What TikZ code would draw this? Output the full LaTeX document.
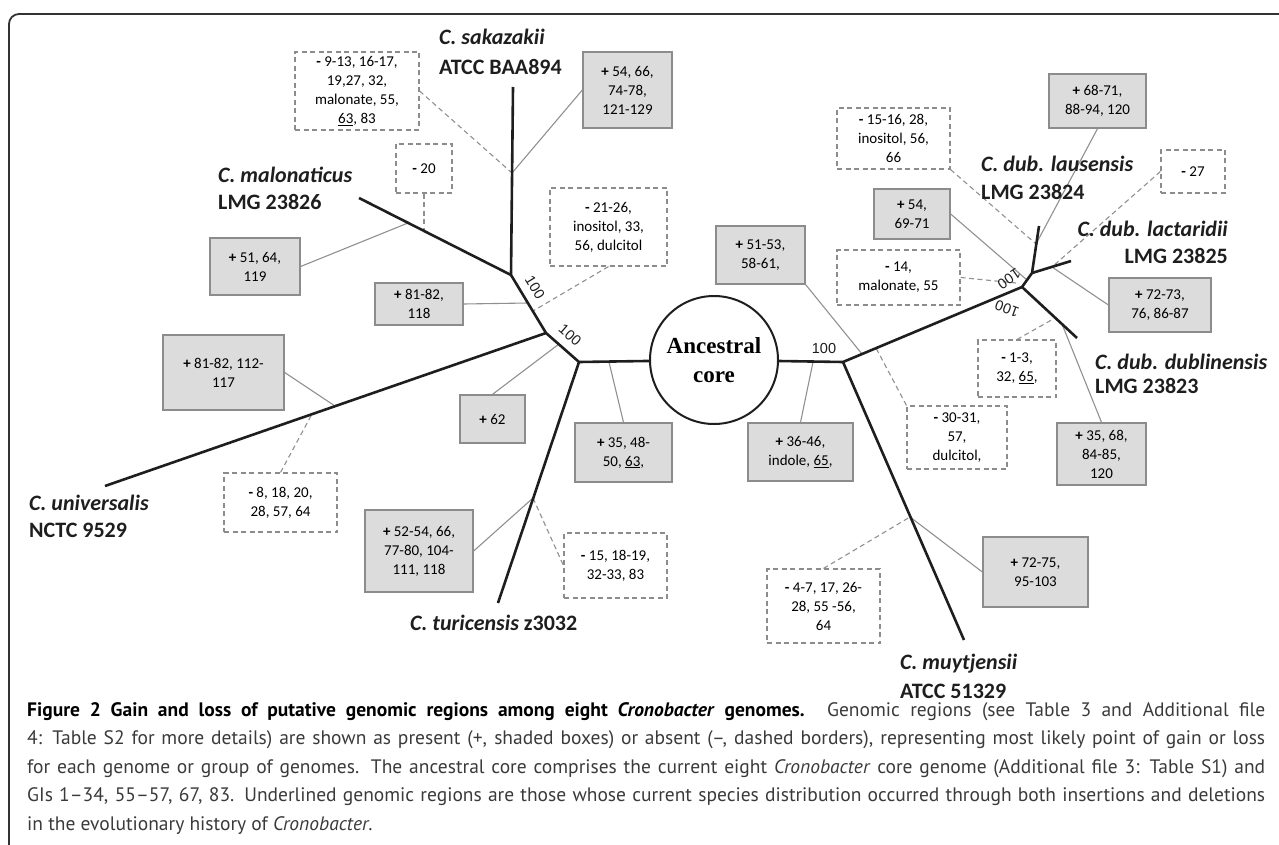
\documentclass[tikz,border=0pt]{standalone}
\usepackage{fontspec}
\setmainfont{Carlito}
\newfontfamily\boxfont{Carlito}
\newfontfamily\capfont{PT Sans}
\newfontfamily\serfont{Liberation Serif}
\newfontfamily\numfont{Liberation Sans}
\usetikzlibrary{calc}
\definecolor{boxgray}{HTML}{DCDCDC}
\definecolor{edgegray}{HTML}{8C8C8C}
\definecolor{linegray}{HTML}{909090}
\definecolor{treeblack}{HTML}{1E1E1E}
\definecolor{framecol}{HTML}{333333}
\definecolor{captxt}{HTML}{3A3A3A}
\newcommand{\gplus}{\textbf{+} }
\newcommand{\gminus}{\textbf{-} }
\begin{document}
\begin{tikzpicture}[x=1pt,y=-1pt,
  tree/.style={draw=treeblack,line width=2.6pt,line join=round},
  gbox/.style={draw=edgegray,fill=boxgray,line width=1.3pt,align=center,inner sep=0pt,
    font=\boxfont\fontsize{15}{19}\selectfont},
  dbox/.style={draw=edgegray,fill=white,line width=1.1pt,dash pattern=on 5pt off 3.5pt,
    align=center,inner sep=0pt,font=\boxfont\fontsize{15}{19}\selectfont},
  conn/.style={draw=linegray,line width=1.1pt},
  dconn/.style={draw=linegray,line width=1.1pt,dash pattern=on 5pt off 3.5pt},
  spname/.style={anchor=base west,inner sep=0pt,font=\bfseries\fontsize{22}{27}\selectfont,text=treeblack},
  spnamer/.style={anchor=base east,inner sep=0pt,font=\bfseries\fontsize{22}{27}\selectfont,text=treeblack},
  boot/.style={inner sep=0pt,font=\numfont\fontsize{14.5}{16}\selectfont,text=treeblack},
  captext/.style={anchor=base west,inner sep=0pt,font=\capfont\fontsize{19.5}{22}\selectfont,text=captxt}
]
\useasboundingbox (0,0) rectangle (1279,845);
% frame
\draw[framecol,line width=1.8pt,rounded corners=10pt] (9,850) -- (9,14) -- (1285,14);

% tree coordinates
\coordinate (jL) at (579,362);
\coordinate (jU) at (546,333);
\coordinate (jM) at (511,275);
\coordinate (sakEnd) at (513,87);
\coordinate (malEnd) at (359,198);
\coordinate (uniEnd) at (105,486);
\coordinate (turEnd) at (498,603);
\coordinate (jR) at (843,362);
\coordinate (muyEnd) at (964,640);
\coordinate (jD) at (1022,287);
\coordinate (jL2) at (1032,273);
\coordinate (lauEnd) at (1039,226);
\coordinate (lacEnd) at (1071,261);
\coordinate (dubEnd) at (1077,338);

% attachment points
\coordinate (pS1) at (512,173);
\coordinate (pM1) at (424,231);
\coordinate (pM2) at (408,223);
\coordinate (pJ1) at (533,311);
\coordinate (pJ2) at (528,303);
\coordinate (pU1) at (335,406);
\coordinate (pU2) at (312,414);
\coordinate (pJ3) at (559,344);
\coordinate (pH1) at (609,362);
\coordinate (pT1) at (533,498);
\coordinate (pR1) at (862,354);
\coordinate (pR2) at (876,348);
\coordinate (pH2) at (813,362);
\coordinate (pLa) at (1036,244);
\coordinate (pLc) at (1052,267);
\coordinate (pD1) at (1027,280);
\coordinate (pD2) at (1016,283);
\coordinate (pDb1) at (1055,318);
\coordinate (pDb2) at (1062,324);
\coordinate (pMu) at (910,517);

% core
\node[draw=treeblack,line width=2pt,circle,minimum size=128pt,inner sep=0pt,align=center,
  font=\serfont\bfseries\fontsize{23}{29}\selectfont,fill=white] (core) at (714,360) {Ancestral\\core};

% boxes
\node[dbox,minimum width=124pt,minimum height=78pt] (D1) at (357,91) {\gminus 9-13, 16-17,\\19,27, 32,\\malonate, 55,\\\underline{63}, 83};
\node[gbox,minimum width=89pt,minimum height=76pt] (G1) at (627.5,90) {\gplus 54, 66,\\74-78,\\121-129};
\node[dbox,minimum width=56pt,minimum height=49pt] (D2) at (424,168.5) {\gminus 20};
\node[gbox,minimum width=90pt,minimum height=57pt] (G2) at (255,266.5) {\gplus 51, 64,\\119};
\node[dbox,minimum width=117pt,minimum height=78pt] (D3) at (608.5,227) {\gminus 21-26,\\inositol, 33,\\56, dulcitol};
\node[gbox,minimum width=88pt,minimum height=42pt] (G3) at (419,304) {\gplus 81-82,\\118};
\node[gbox,minimum width=121pt,minimum height=75pt] (G4) at (223.5,372.5) {\gplus 81-82, 112-\\117};
\node[gbox,minimum width=65pt,minimum height=48pt] (G5) at (492.5,419) {\gplus 62};
\node[gbox,minimum width=97pt,minimum height=59pt] (G6) at (623.5,452.5) {\gplus 35, 48-\\50, \underline{63},};
\node[dbox,minimum width=113pt,minimum height=59pt] (D4) at (280.5,502.5) {\gminus 8, 18, 20,\\28, 57, 64};
\node[gbox,minimum width=108pt,minimum height=82pt] (G7) at (419,551) {\gplus 52-54, 66,\\77-80, 104-\\111, 118};
\node[dbox,minimum width=103pt,minimum height=65pt] (D5) at (615.5,565.5) {\gminus 15, 18-19,\\32-33, 83};
\node[gbox,minimum width=89pt,minimum height=58pt] (G8) at (760.5,255) {\gplus 51-53,\\58-61,};
\node[dbox,minimum width=113pt,minimum height=61pt] (D6) at (893.5,138.5) {\gminus 15-16, 28,\\inositol, 56,\\66};
\node[gbox,minimum width=97pt,minimum height=54pt] (G9) at (1097.5,101) {\gplus 68-71,\\88-94, 120};
\node[dbox,minimum width=64pt,minimum height=43pt] (D7) at (1193,171.5) {\gminus 27};
\node[gbox,minimum width=76pt,minimum height=50pt] (G10) at (912,214) {\gplus 54,\\69-71};
\node[dbox,minimum width=123pt,minimum height=55pt] (D8) at (898.5,277.5) {\gminus 14,\\malonate, 55};
\node[gbox,minimum width=102pt,minimum height=54pt] (G11) at (1160,305) {\gplus 72-73,\\76, 86-87};
\node[dbox,minimum width=78pt,minimum height=57pt] (D9) at (1017,368.5) {\gminus 1-3,\\32, \underline{65},};
\node[gbox,minimum width=89pt,minimum height=62pt] (G12) at (1101.5,454) {\gplus 35, 68,\\84-85,\\120};
\node[gbox,minimum width=105pt,minimum height=58pt] (G13) at (800.5,452) {\gplus 36-46,\\indole, \underline{65},};
\node[dbox,minimum width=100pt,minimum height=63pt] (D10) at (957,437.5) {\gminus 30-31,\\57,\\dulcitol,};
\node[dbox,minimum width=113pt,minimum height=74pt] (D11) at (823.5,606) {\gminus 4-7, 17, 26-\\28,  55 -56,\\64};
\node[gbox,minimum width=105pt,minimum height=70pt] (G14) at (1035.5,572) {\gplus 72-75,\\95-103};

% connectors
\draw[dconn] (D1.east) -- (pS1);
\draw[conn] (G1.west) -- (pS1);
\draw[dconn] (D2.south) -- (pM1);
\draw[conn] (G2.east) -- (pM2);
\draw[dconn] (D3.south) -- (pJ1);
\draw[conn] (G3.east) -- (pJ2);
\draw[conn] (G4.east) -- (pU1);
\draw[dconn] (D4.north) -- (pU2);
\draw[conn] (G5.north) -- (pJ3);
\draw[conn] (G6.north) -- (pH1);
\draw[conn] (G7.east) -- (pT1);
\draw[dconn] (pT1) -- (D5.west);
\draw[conn] (G8.south east) -- (pR1);
\draw[dconn] (D10.north west) -- (pR2);
\draw[conn] (G13.north) -- (pH2);
\draw[dconn] (D6.south east) -- (pLa);
\draw[conn] (G9.south) -- (pLa);
\draw[dconn] (D7.west) -- (pLc);
\draw[conn] (G11.west) -- (pLc);
\draw[conn] (G10.east) -- (pD1);
\draw[dconn] (D8.east) -- (pD2);
\draw[dconn] (D9.north) -- (pDb1);
\draw[conn] (G12.north) -- (pDb2);
\draw[dconn] (D11.north) -- (pMu);
\draw[conn] (G14.west) -- (pMu);

% tree
\draw[tree] (sakEnd) -- (jM) -- (jU) -- (jL) -- (core);
\draw[tree] (malEnd) -- (jM);
\draw[tree] (uniEnd) -- (jU);
\draw[tree] (turEnd) -- (jL);
\draw[tree] (core) -- (jR) -- (jD) -- (jL2) -- (lauEnd);
\draw[tree] (jL2) -- (lacEnd);
\draw[tree] (jD) -- (dubEnd);
\draw[tree] (jR) -- (muyEnd);

% bootstrap labels
\node[boot,rotate=-59] (b1) at (535,287) {100};
\node[boot,rotate=-41] (b2) at (570,335) {100};
\node[boot] (b3) at (824,349) {100};
\node[boot,rotate=215] (b4) at (1009,279) {100};
\node[boot,rotate=160] (b5) at (1007,309) {100};

% species labels
\node[spname] (sakA) at (439,45) {\textit{C. sakazakii}};
\node[spname] (sakB) at (439,75) {ATCC BAA894};
\node[spname] (malA) at (218,183) {\textit{C. malonaticus}};
\node[spname] (malB) at (218,210) {LMG 23826};
\node[spname] (uniA) at (29,510) {\textit{C. universalis}};
\node[spname] (uniB) at (29,537) {NCTC 9529};
\node[spname] (turA) at (410,630) {\textit{C. turicensis} z3032};
\node[spname] (muyA) at (900,669) {\textit{C. muytjensii}};
\node[spname] (muyB) at (900,698) {ATCC 51329};
\node[spname] (lauA) at (981,172) {\textit{C. dub. lausensis}};
\node[spname] (lauB) at (981,200) {LMG 23824};
\node[spnamer] (lacA) at (1228,236) {\textit{C. dub. lactaridii}};
\node[spnamer] (lacB) at (1228,263) {LMG 23825};
\node[spname] (dubA) at (1095,369) {\textit{C. dub. dublinensis}};
\node[spname] (dubB) at (1095,393) {LMG 23823};

% caption
\node[captext] (cap1) at (27,716) {\makebox[1238pt][s]{\textbf{\color{black}Figure 2 Gain and loss of putative genomic regions among eight \textit{Cronobacter} genomes.} Genomic regions (see Table 3 and Additional file}};
\node[captext] (cap2) at (27,744.5) {\makebox[1238pt][s]{4: Table S2 for more details) are shown as present (+, shaded boxes) or absent (–, dashed borders), representing most likely point of gain or loss}};
\node[captext] (cap3) at (27,773) {\makebox[1238pt][s]{for each genome or group of genomes. The ancestral core comprises the current eight \textit{Cronobacter} core genome (Additional file 3: Table S1) and}};
\node[captext] (cap4) at (27,801.5) {\makebox[1238pt][s]{GIs 1–34, 55–57, 67, 83. Underlined genomic regions are those whose current species distribution occurred through both insertions and deletions}};
\node[captext] (cap5) at (27,830) {in the evolutionary history of \textit{Cronobacter}.};
\end{tikzpicture}
\end{document}
